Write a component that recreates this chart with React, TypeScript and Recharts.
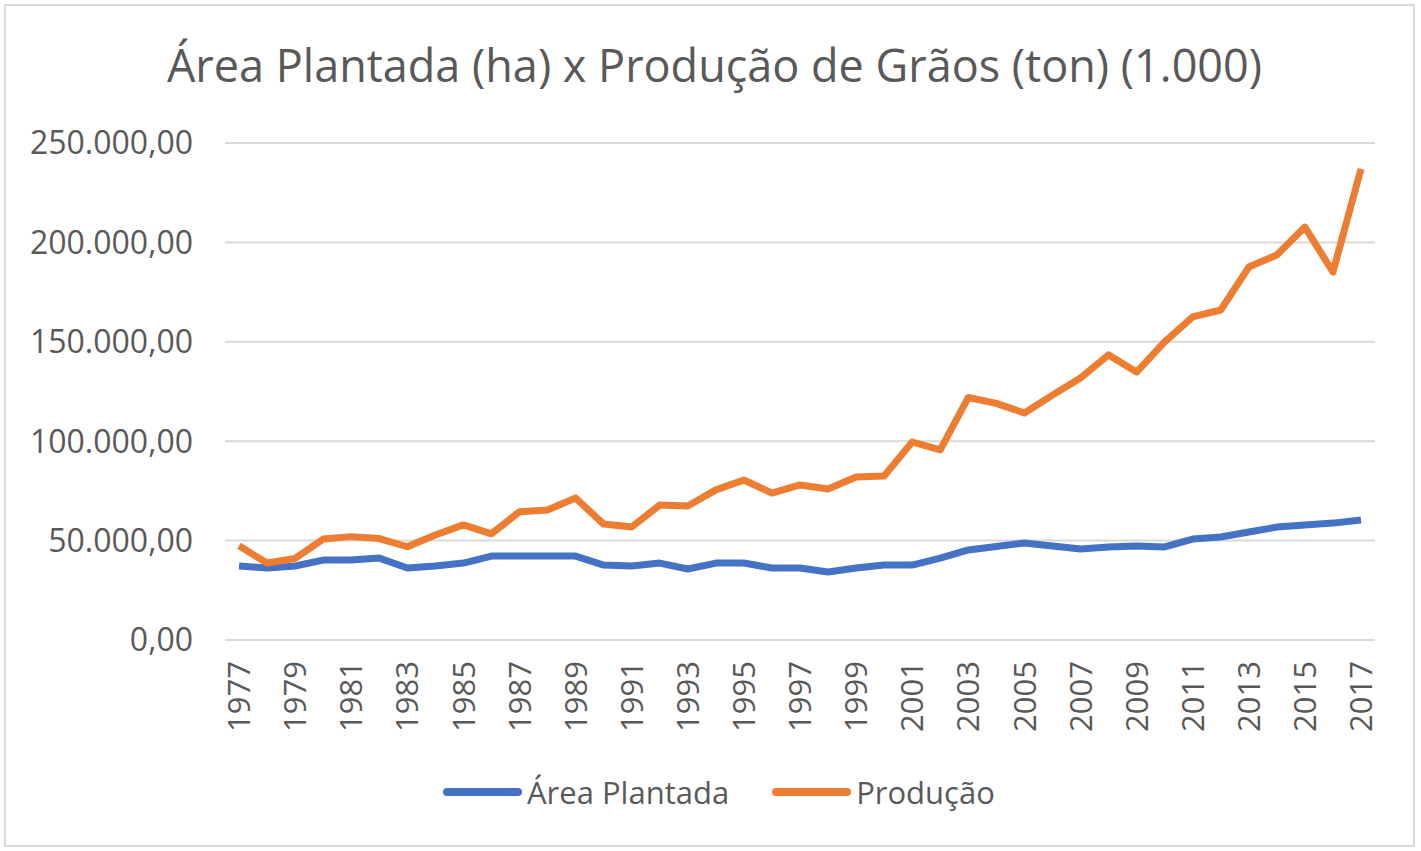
import { LineChart, Line, XAxis, YAxis, CartesianGrid, Legend } from 'recharts';

const years = [
  '1977', '1978', '1979', '1980', '1981', '1982', '1983', '1984', '1985', '1986',
  '1987', '1988', '1989', '1990', '1991', '1992', '1993', '1994', '1995', '1996',
  '1997', '1998', '1999', '2000', '2001', '2002', '2003', '2004', '2005', '2006',
  '2007', '2008', '2009', '2010', '2011', '2012', '2013', '2014', '2015', '2016', '2017',
];

const areaPlantada = [
  37200, 36200, 37200, 40200, 40200, 41200, 36200, 37200, 38700, 42200,
  42200, 42200, 42200, 37700, 37200, 38700, 35700, 38700, 38700, 36200,
  36200, 34200, 36200, 37700, 37700, 41200, 45300, 47000, 48800, 47300,
  45800, 46800, 47300, 46800, 50800, 51800, 54300, 56800, 57800, 58800, 60400,
];

const producao = [
  47400, 38700, 41000, 50800, 52000, 51000, 46900, 52800, 57900, 53400,
  64500, 65400, 71400, 58300, 56800, 67900, 67400, 75500, 80500, 73900,
  78000, 76000, 82000, 82500, 99600, 95600, 122000, 119000, 114200, 123200,
  131800, 143400, 134800, 150000, 162500, 166000, 187600, 193700, 207700, 185100, 237000,
];

const yTicks = [0, 50000, 100000, 150000, 200000, 250000];
const legendOrder = ['Área Plantada', 'Produção'];

const data = years.map((year, i) => ({
  year,
  area: areaPlantada[i],
  prod: producao[i],
}));

const FONT = '"Open Sans", "Noto Sans", sans-serif';
const TEXT = '#595959';

function fmt(v: number) {
  const int = Math.round(v).toString().replace(/\B(?=(\d{3})+(?!\d))/g, '.');
  return `${int},00`;
}

function YearTick(props: any) {
  const { x, y, payload } = props;
  return (
    <g transform={`translate(${x},${y})`}>
      <text
        transform="rotate(-90)"
        x={-21}
        y={0}
        dy="0.36em"
        textAnchor="end"
        fill={TEXT}
        fontSize={31}
        fontFamily={FONT}
      >
        {payload.value}
      </text>
    </g>
  );
}

function LegendContent(props: any) {
  const items = [...(props.payload || [])].sort(
    (a: any, b: any) => legendOrder.indexOf(a.value) - legendOrder.indexOf(b.value)
  );
  return (
    <div style={{ display: 'flex', alignItems: 'center', fontFamily: FONT, fontSize: 31, color: TEXT }}>
      {items.map((entry: any, i: number) => (
        <div key={i} style={{ display: 'flex', alignItems: 'center', marginRight: 43 }}>
          <div style={{ width: 79, height: 8, borderRadius: 4, background: entry.color, marginRight: 5 }} />
          <span>{entry.value}</span>
        </div>
      ))}
    </div>
  );
}

export default function App() {
  return (
    <div style={{ position: 'relative', width: 1421, height: 851, background: '#fff', overflow: 'hidden' }}>
      <style>{'body{margin:0}'}</style>
      <div
        style={{
          position: 'absolute', left: 4, top: 4, width: 1407, height: 839,
          border: '2px solid #d9d9d9', boxSizing: 'content-box',
        }}
      />
      <div
        style={{
          position: 'absolute', left: 4, top: 34, width: 1421, textAlign: 'center',
          fontFamily: FONT, fontSize: 45, color: TEXT,
        }}
      >
        Área Plantada (ha) x Produção de Grãos (ton) (1.000)
      </div>
      <div style={{ position: 'absolute', left: 0, top: 0 }}>
        <LineChart width={1421} height={851} data={data} margin={{ top: 143, right: 46, left: 0, bottom: 101 }}>
          <CartesianGrid vertical={false} stroke="#d9d9d9" strokeWidth={2} />
          <XAxis
            dataKey="year"
            interval={1}
            height={110}
            tickLine={false}
            tickSize={0}
            tickMargin={0}
            axisLine={{ stroke: '#d9d9d9', strokeWidth: 2 }}
            padding={{ left: 14, right: 14 }}
            tick={<YearTick />}
          />
          <YAxis
            width={225}
            domain={[0, 250000]}
            ticks={yTicks}
            axisLine={false}
            tickLine={false}
            tickSize={0}
            tickMargin={32}
            tickFormatter={fmt}
            tick={{ fill: TEXT, fontSize: 32, fontFamily: FONT }}
          />
          <Legend
            verticalAlign="middle"
            content={<LegendContent />}
            wrapperStyle={{ top: 771, left: 443, width: 'auto' }}
          />
          <Line
            type="linear"
            dataKey="area"
            name="Área Plantada"
            stroke="#4472C4"
            strokeWidth={7}
            strokeLinejoin="round"
            dot={false}
            isAnimationActive={false}
          />
          <Line
            type="linear"
            dataKey="prod"
            name="Produção"
            stroke="#ED7D31"
            strokeWidth={7}
            strokeLinejoin="round"
            dot={false}
            isAnimationActive={false}
          />
        </LineChart>
      </div>
    </div>
  );
}
